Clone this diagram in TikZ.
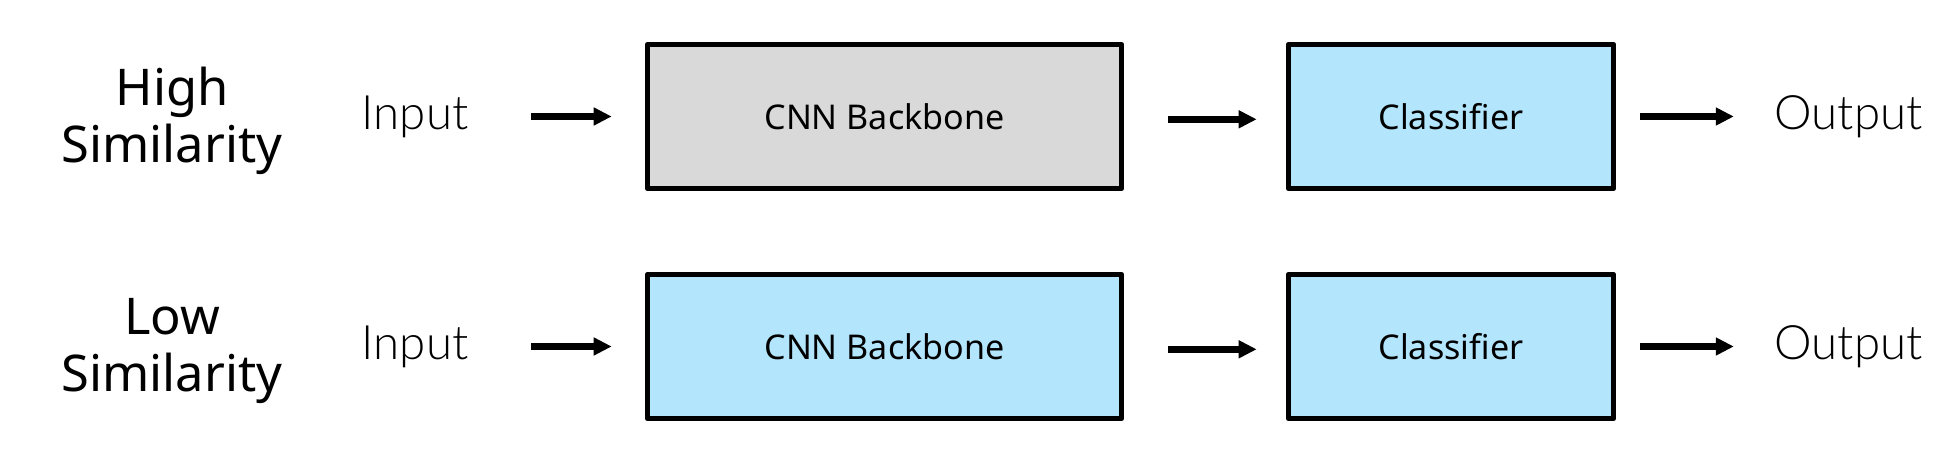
\documentclass[tikz,border=0pt]{standalone}
\usepackage{fontspec}
\setmainfont{Noto Sans}
\IfFontExistsTF{Lato Light}{\newfontfamily\lightfont{Lato Light}}{\newfontfamily\lightfont{Lato}}
\usetikzlibrary{arrows.meta, positioning}
\definecolor{frozengray}{HTML}{D9D9D9}
\definecolor{trainblue}{HTML}{B3E5FC}

\begin{document}
\begin{tikzpicture}[
    x=0.1mm, y=-0.1mm,
    node distance=2.3cm,
    on grid,
    block/.style={draw=black, line width=1.6pt, line join=round, minimum height=1.44cm, font=\fontsize{9.7}{11}\selectfont},
    backbone/.style={block, minimum width=4.74cm},
    head/.style={block, minimum width=3.25cm, fill=trainblue},
    io/.style={inner sep=0pt, font=\lightfont\fontsize{13.5}{16}\selectfont},
    rowlabel/.style={align=center, inner sep=0pt, font=\fontsize{14.4}{16.2}\selectfont},
    every edge/.append style={line width=1.9pt, -{Triangle[length=1.8mm, width=1.7mm]}}
]
   \useasboundingbox (0,0) rectangle (1954,468);

   % Row 1: high similarity, frozen backbone
   \node[backbone, fill=frozengray] (cnn1) at (884.5,116.5) {CNN Backbone};
   \node[head] (cls1) [right=5.665cm of cnn1] {Classifier};
   \node[io] (in1) [left=4.695cm of cnn1] {Input};
   \node[io] (out1) [right=3.975cm of cls1] {Output};
   \node[rowlabel] (sim1) [left=2.43cm of in1, yshift=-1.3pt] {High\\Similarity};

   % Row 2: low similarity, everything trained
   \node[backbone, fill=trainblue] (cnn2) [below=of cnn1] {CNN Backbone};
   \node[head] (cls2) [below=of cls1] {Classifier};
   \node[io] (in2) [below=of in1] {Input};
   \node[io] (out2) [below=of out1] {Output};
   \node[rowlabel] (sim2) [below=of sim1] {Low\\Similarity};

   % Arrows
   \path
   (in1) edge [shorten <=6.2mm, shorten >=3.3mm] (cnn1)
   ([yshift=-0.8pt]cnn1.east) edge [shorten <=4.4mm, shorten >=2.9mm] ([yshift=-0.8pt]cls1.west)
   (cls1) edge [shorten <=2.4mm, shorten >=4mm] (out1)
   (in2) edge [shorten <=6.2mm, shorten >=3.3mm] (cnn2)
   ([yshift=-0.8pt]cnn2.east) edge [shorten <=4.4mm, shorten >=2.9mm] ([yshift=-0.8pt]cls2.west)
   (cls2) edge [shorten <=2.4mm, shorten >=4mm] (out2);
\end{tikzpicture}
\end{document}
